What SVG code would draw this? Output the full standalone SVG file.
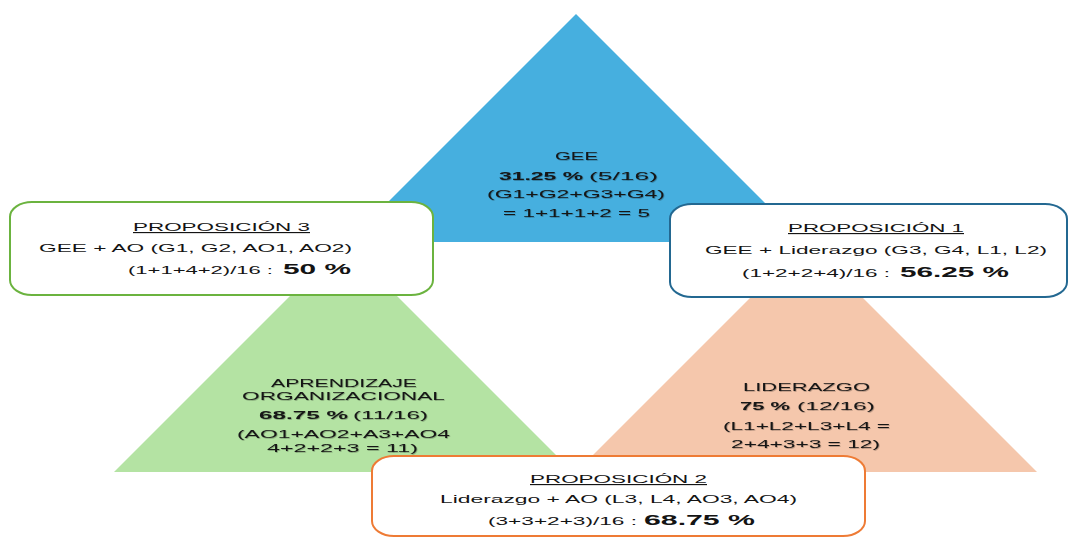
<svg xmlns="http://www.w3.org/2000/svg" width="1070" height="537" viewBox="0 0 1070 537">
  <defs>
    <!-- soft shadow behind the labels printed on the triangles -->
    <filter id="txtShadow" x="-10%" y="-30%" width="120%" height="160%">
      <feDropShadow dx="0.7" dy="0.7" stdDeviation="0.5" flood-color="#000000" flood-opacity="0.35"/>
    </filter>
  </defs>
  <style>
    text { font-family: "Liberation Sans", Arial, sans-serif; fill: #141414; font-size: 11.5px; }
    .b { font-weight: bold; }
    .big { font-weight: bold; font-size: 14.5px; }
    .u { text-decoration: underline; }
    .box { fill: #ffffff; stroke-width: 2; }
    .tri text { filter: url(#txtShadow); }
  </style>

  <!-- GEE triangle -->
  <g id="gee" class="tri">
    <polygon points="576,14 804,242 348,242" fill="#46AFDF"/>
    <text x="555" y="160" textLength="43" lengthAdjust="spacingAndGlyphs">GEE</text>
    <text x="499" y="180" class="b" textLength="84" lengthAdjust="spacingAndGlyphs">31.25 %</text>
    <text x="589" y="180" textLength="69" lengthAdjust="spacingAndGlyphs">(5/16)</text>
    <text x="487" y="198" textLength="178" lengthAdjust="spacingAndGlyphs">(G1+G2+G3+G4)</text>
    <text x="503" y="217" textLength="147" lengthAdjust="spacingAndGlyphs">= 1+1+1+2 = 5</text>
  </g>

  <!-- Aprendizaje organizacional triangle -->
  <g id="ao" class="tri">
    <polygon points="343.5,242.5 573,472 114,472" fill="#B4E3A3"/>
    <text x="271" y="387" textLength="146" lengthAdjust="spacingAndGlyphs">APRENDIZAJE</text>
    <text x="242" y="400" textLength="203" lengthAdjust="spacingAndGlyphs">ORGANIZACIONAL</text>
    <text x="259" y="419" class="b" textLength="89" lengthAdjust="spacingAndGlyphs">68.75 %</text>
    <text x="353" y="419" textLength="75" lengthAdjust="spacingAndGlyphs">(11/16)</text>
    <text x="237" y="438" textLength="213" lengthAdjust="spacingAndGlyphs">(AO1+AO2+A3+AO4</text>
    <text x="267" y="452" textLength="151" lengthAdjust="spacingAndGlyphs">4+2+2+3 = 11)</text>
  </g>

  <!-- Liderazgo triangle -->
  <g id="liderazgo" class="tri">
    <polygon points="806.5,241.5 1037,472 576,472" fill="#F5C7AC"/>
    <text x="743" y="391" textLength="127" lengthAdjust="spacingAndGlyphs">LIDERAZGO</text>
    <text x="740" y="410" class="b" textLength="50" lengthAdjust="spacingAndGlyphs">75 %</text>
    <text x="797" y="410" textLength="78" lengthAdjust="spacingAndGlyphs">(12/16)</text>
    <text x="723" y="430" textLength="167" lengthAdjust="spacingAndGlyphs">(L1+L2+L3+L4 =</text>
    <text x="731" y="448" textLength="149" lengthAdjust="spacingAndGlyphs">2+4+3+3 = 12)</text>
  </g>

  <!-- Proposición 3: GEE + AO -->
  <g id="prop3">
    <rect x="10" y="202" width="423" height="93" rx="22" ry="15" class="box" stroke="#6BB33F"/>
    <text x="133" y="231" class="u" textLength="177" lengthAdjust="spacingAndGlyphs">PROPOSICIÓN 3</text>
    <text x="39" y="252" textLength="313" lengthAdjust="spacingAndGlyphs">GEE + AO (G1, G2, AO1, AO2)</text>
    <text x="128" y="274" textLength="145" lengthAdjust="spacingAndGlyphs">(1+1+4+2)/16 :</text>
    <text x="283" y="274" class="big" textLength="68" lengthAdjust="spacingAndGlyphs">50 %</text>
  </g>

  <!-- Proposición 1: GEE + Liderazgo -->
  <g id="prop1">
    <rect x="670" y="204" width="397" height="93" rx="22" ry="15" class="box" stroke="#236891"/>
    <text x="788" y="232" class="u" textLength="176" lengthAdjust="spacingAndGlyphs">PROPOSICIÓN 1</text>
    <text x="705" y="254" textLength="342" lengthAdjust="spacingAndGlyphs">GEE + Liderazgo (G3, G4, L1, L2)</text>
    <text x="742" y="277" textLength="148" lengthAdjust="spacingAndGlyphs">(1+2+2+4)/16 :</text>
    <text x="900" y="277" class="big" textLength="109" lengthAdjust="spacingAndGlyphs">56.25 %</text>
  </g>

  <!-- Proposición 2: Liderazgo + AO -->
  <g id="prop2">
    <rect x="372" y="456" width="493" height="80" rx="22" ry="15" class="box" stroke="#EE7B35"/>
    <text x="530" y="483" class="u" textLength="177" lengthAdjust="spacingAndGlyphs">PROPOSICIÓN 2</text>
    <text x="440" y="503" textLength="357" lengthAdjust="spacingAndGlyphs">Liderazgo + AO (L3, L4, AO3, AO4)</text>
    <text x="488" y="525" textLength="149" lengthAdjust="spacingAndGlyphs">(3+3+2+3)/16 :</text>
    <text x="644" y="525" class="big" textLength="111" lengthAdjust="spacingAndGlyphs">68.75 %</text>
  </g>
</svg>
